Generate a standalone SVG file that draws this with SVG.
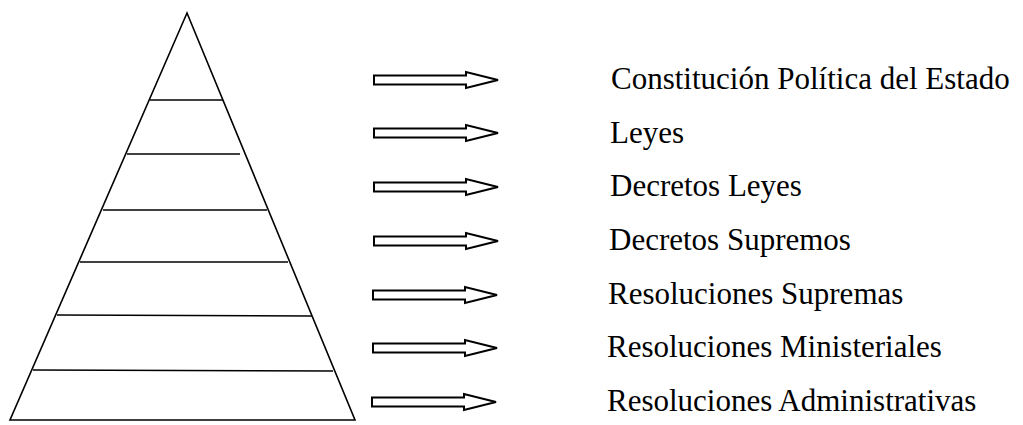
<svg xmlns="http://www.w3.org/2000/svg" width="1023" height="425" viewBox="0 0 1023 425">
<style>
.pyr{fill:none;stroke:#000;stroke-width:1.6;stroke-linejoin:miter}
.lvl{stroke:#000;stroke-width:1.6}
.arr{fill:#fff;stroke:#000;stroke-width:2;stroke-linejoin:miter}
.lbl{font-family:"Liberation Serif","Times New Roman",serif;font-size:31px;fill:#000}
</style>
<defs>
<path id="arrow" d="M0,-4.5 L92,-4.5 L92,-8 L124,0 L92,8 L92,4.5 L0,4.5 Z"/>
</defs>
<rect width="1023" height="425" fill="#fff"/>
<g id="pyramid">
<path class="pyr" d="M187,13 L10,420 L355,420 Z"/>
<line class="lvl" x1="150" y1="100" x2="223" y2="100"/>
<line class="lvl" x1="127" y1="154" x2="240" y2="154"/>
<line class="lvl" x1="103" y1="210" x2="267" y2="210"/>
<line class="lvl" x1="80" y1="262" x2="288" y2="262"/>
<line class="lvl" x1="57" y1="315" x2="312" y2="316"/>
<line class="lvl" x1="33" y1="370" x2="333" y2="371"/>
</g>
<g id="connectors">
<use href="#arrow" class="arr" transform="translate(374,80)"/>
<use href="#arrow" class="arr" transform="translate(374,133)"/>
<use href="#arrow" class="arr" transform="translate(374,187)"/>
<use href="#arrow" class="arr" transform="translate(374,241)"/>
<use href="#arrow" class="arr" transform="translate(373,295)"/>
<use href="#arrow" class="arr" transform="translate(373,348)"/>
<use href="#arrow" class="arr" transform="translate(372,402)"/>
</g>
<g id="n1"><text class="lbl" x="611" y="89">Constitución Política del Estado</text></g>
<g id="n2"><text class="lbl" x="610" y="143">Leyes</text></g>
<g id="n3"><text class="lbl" x="610" y="196">Decretos Leyes</text></g>
<g id="n4"><text class="lbl" x="609" y="250">Decretos Supremos</text></g>
<g id="n5"><text class="lbl" x="608" y="304">Resoluciones Supremas</text></g>
<g id="n6"><text class="lbl" x="607" y="357">Resoluciones Ministeriales</text></g>
<g id="n7"><text class="lbl" x="607" y="411">Resoluciones Administrativas</text></g>
</svg>
